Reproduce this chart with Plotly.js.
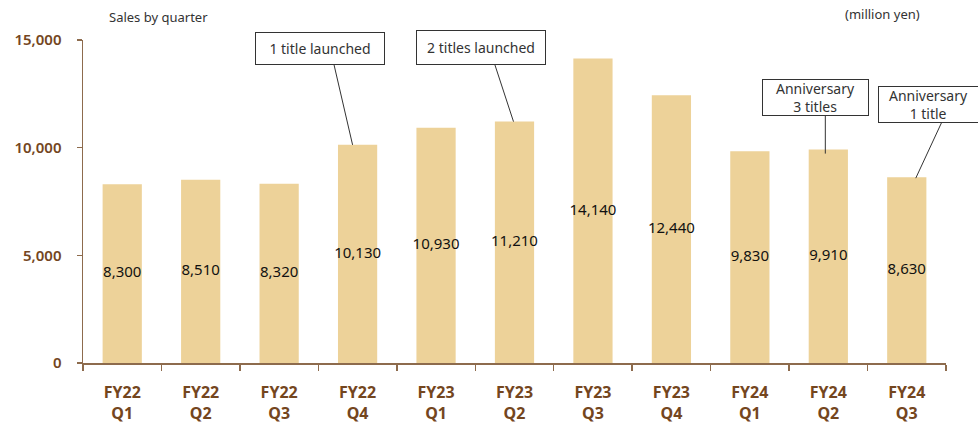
<!DOCTYPE html>
<html>
<head>
<meta charset="utf-8">
<script src="https://cdn.plot.ly/plotly-3.0.1.min.js"></script>
<style>html,body{margin:0;padding:0;background:#fff;}#chart{width:978px;height:426px;}</style>
</head>
<body>
<div id="chart"></div>
<script>
const categories = ["FY22<br>Q1","FY22<br>Q2","FY22<br>Q3","FY22<br>Q4","FY23<br>Q1","FY23<br>Q2","FY23<br>Q3","FY23<br>Q4","FY24<br>Q1","FY24<br>Q2","FY24<br>Q3"];
const sales = [8300, 8510, 8320, 10130, 10930, 11210, 14140, 12440, 9830, 9910, 8630];
const yTicks = [0, 5000, 10000, 15000];
const calloutTexts = ["1 title launched", "2 titles launched", "Anniversary<br>3 titles", "Anniversary<br>1 title"];
const calloutIndex = [3, 5, 9, 10];

const FONT = "'Noto Sans', 'Open Sans', sans-serif";
const BROWN = "#74461e";
const AXIS = "#8d6b4d";

const fmt = v => v.toLocaleString('en-US');

const bars = {
  type: 'bar', x: categories, y: sales, width: 0.5,
  marker: {color: '#edd299'}, hoverinfo: 'skip'
};
const labels = {
  type: 'scatter', mode: 'text', x: categories, y: sales.map(v => v / 2),
  text: sales.map(fmt), textposition: 'middle center',
  textfont: {family: FONT, size: 15, color: '#111'}, hoverinfo: 'skip'
};

// callout boxes (pixel-placed, converted to paper fractions)
const L = 83, R = 32, T = 40, B = 63, W = 978, H = 426;
const pw = W - L - R, ph = H - T - B;
const px = x => (x - L) / pw, py = y => (H - B - y) / ph;
const boxes = [
  {cx: 320, cy: 48.5, w: 126, h: 29},
  {cx: 481, cy: 47.5, w: 126, h: 31},
  {cx: 815.5, cy: 97.5, w: 103, h: 33},
  {cx: 928.5, cy: 104.5, w: 97, h: 33}
];
const annotations = boxes.map((b, i) => ({
  xref: 'paper', yref: 'paper', x: px(b.cx), y: py(b.cy),
  xanchor: 'center', yanchor: 'middle', showarrow: false,
  text: calloutTexts[i], width: b.w, height: b.h, align: 'center', valign: 'middle',
  bordercolor: '#333', borderwidth: 1, bgcolor: '#fff',
  font: {family: FONT, size: 14, color: '#333'}
}));
annotations.push(
  {xref: 'paper', yref: 'paper', x: px(107), y: py(17), xanchor: 'left', yanchor: 'middle',
   showarrow: false, text: 'Sales by quarter', font: {family: FONT, size: 13, color: '#333'}},
  {xref: 'paper', yref: 'paper', x: px(843), y: py(14), xanchor: 'left', yanchor: 'middle',
   showarrow: false, text: '(million yen)', font: {family: FONT, size: 13, color: '#333'}}
);

// leader lines: anchored at bar top, pixel offsets
const leaders = [
  {x0: -5, y0: 0, x1: -24, y1: 82},
  {x0: -1, y0: 0, x1: -20, y1: 58},
  {x0: -3, y0: -4, x1: -3, y1: 35},
  {x0: 9, y0: -1, x1: 35, y1: 55}
];
const shapes = leaders.map((l, i) => ({
  type: 'line', xref: 'x', yref: 'y',
  xsizemode: 'pixel', ysizemode: 'pixel',
  xanchor: calloutIndex[i], yanchor: sales[calloutIndex[i]],
  x0: l.x0, y0: l.y0, x1: l.x1, y1: l.y1,
  line: {color: '#333', width: 1}
}));

const layout = {
  width: W, height: H,
  margin: {l: L, r: R, t: T, b: B, pad: 0},
  paper_bgcolor: '#fff', plot_bgcolor: '#fff',
  showlegend: false,
  xaxis: {
    type: 'category', showgrid: false, zeroline: false,
    showline: true, linecolor: AXIS, linewidth: 1.5,
    ticks: 'outside', tickson: 'boundaries', ticklen: 6, tickcolor: AXIS, tickwidth: 1.5,
    tickfont: {family: FONT, size: 16, color: BROWN, weight: 'bold'},
    ticklabelstandoff: 14,
    range: [-0.5, categories.length - 0.5], fixedrange: true
  },
  yaxis: {
    range: [0, 15000], tickvals: yTicks, ticktext: yTicks.map(fmt),
    showgrid: false, zeroline: false,
    showline: true, linecolor: AXIS, linewidth: 1.5,
    ticks: 'outside', ticklen: 5, tickcolor: AXIS, tickwidth: 1.5,
    tickfont: {family: FONT, size: 15, color: BROWN, weight: 600},
    ticklabelstandoff: 12, fixedrange: true
  },
  annotations: annotations,
  shapes: shapes
};

Plotly.newPlot('chart', [bars, labels], layout, {displayModeBar: false, staticPlot: true});
</script>
</body>
</html>
